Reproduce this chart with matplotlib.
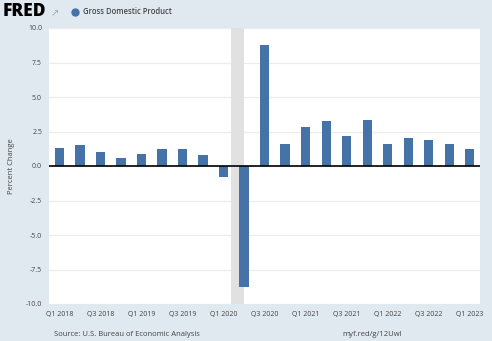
import matplotlib
matplotlib.use("Agg")
import matplotlib.pyplot as plt
import numpy as np

quarters = ["Q1 2018", "Q2 2018", "Q3 2018", "Q4 2018",
            "Q1 2019", "Q2 2019", "Q3 2019", "Q4 2019",
            "Q1 2020", "Q2 2020", "Q3 2020", "Q4 2020",
            "Q1 2021", "Q2 2021", "Q3 2021", "Q4 2021",
            "Q1 2022", "Q2 2022", "Q3 2022", "Q4 2022",
            "Q1 2023"]
gdp_change = [1.3, 1.5, 1.0, 0.6,
              0.9, 1.2, 1.2, 0.8,
              -0.8, -8.8, 8.75, 1.6,
              2.8, 3.25, 2.15, 3.35,
              1.6, 2.0, 1.85, 1.6,
              1.2]
yticks = [-10.0, -7.5, -5.0, -2.5, 0.0, 2.5, 5.0, 7.5, 10.0]
recession = (8.34, 8.97)

BG = "#e1e9f0"
BAR = "#4572a7"
TXT = "#444444"

plt.rcParams['font.family'] = ['Open Sans', 'DejaVu Sans']

fig = plt.figure(figsize=(4.92, 3.41), dpi=100, facecolor=BG)
ax = fig.add_axes([49/492, 37/341, 431/492, 276/341])
ax.set_facecolor("white")

x = np.arange(len(quarters))
ax.axvspan(recession[0], recession[1], color="#e1e1e1", lw=0, zorder=1)
ax.bar(x, gdp_change, width=0.46, color=BAR, zorder=3)
ax.axhline(0, color="black", lw=1.2, zorder=4)

ax.set_xlim(-0.52, 20.5)
ax.set_ylim(-10, 10)
ax.set_yticks(yticks)
ax.set_yticklabels([f"{v:.1f}" for v in yticks], fontsize=5, color=TXT)
ax.set_xticks(x[::2])
ax.set_xticklabels(quarters[::2], fontsize=5, color=TXT)
ax.tick_params(axis="both", length=0, pad=5)
ax.yaxis.grid(True, color="#ececec", lw=0.8, zorder=0)
ax.set_axisbelow(True)
for s in ax.spines.values():
    s.set_visible(False)

fig.text(12/492, 1 - 166/341, "Percent Change", fontsize=5.5, color=TXT,
         rotation=90, va="center", ha="center")

# header: FRED logo and legend
fig.text(3/492, 1 - 12/341, "FRED", fontsize=12.5, fontweight="heavy",
         color="black", va="center", ha="left")
fig.text(51/492, 1 - 14/341, "\u2197", fontsize=7, color="#9aa8b6",
         va="center", ha="left")
fig.lines.append(plt.Line2D([75/492], [1 - 12/341], marker="o", markersize=5,
                            color=BAR, transform=fig.transFigure))
fig.text(83/492, 1 - 12/341, "Gross Domestic Product", fontsize=5.5,
         fontweight="semibold", color=TXT, va="center", ha="left")

# footer
fig.text(127/492, 1 - 335/341, "Source: U.S. Bureau of Economic Analysis",
         fontsize=5.5, color=TXT, va="center", ha="center")
fig.text(372/492, 1 - 335/341, "myf.red/g/12Uwl",
         fontsize=5.5, color=TXT, va="center", ha="center")

fig.savefig("out.png", dpi=100, facecolor=BG)
